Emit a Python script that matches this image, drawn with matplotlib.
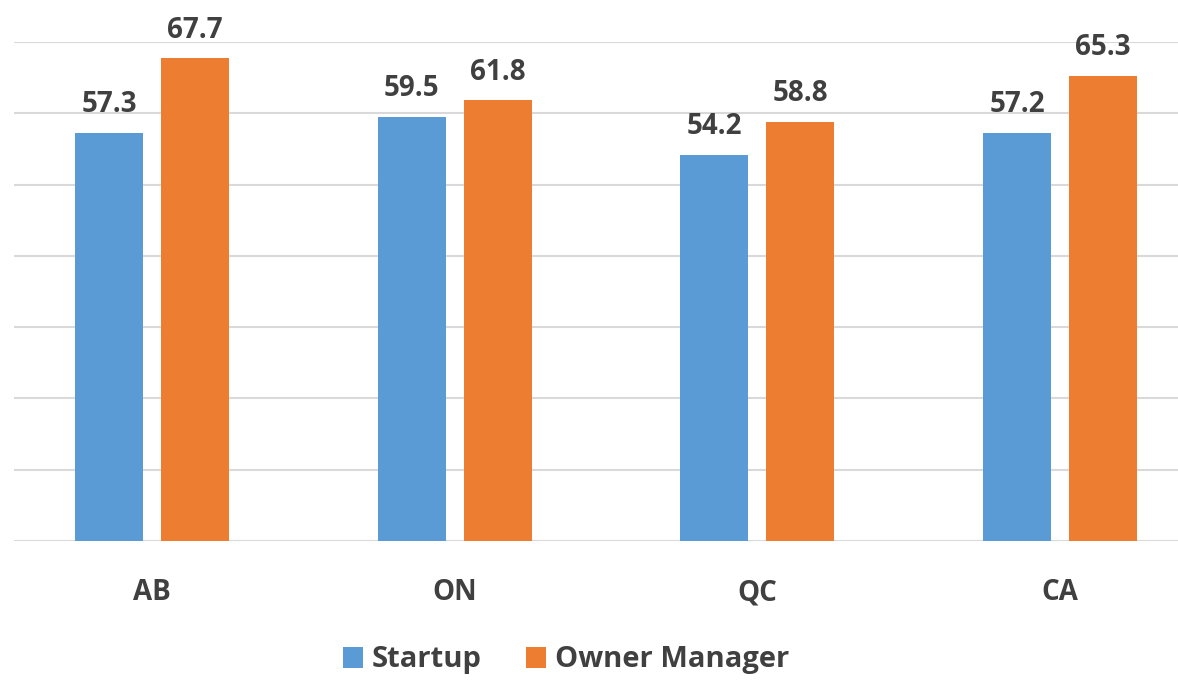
import matplotlib
matplotlib.use("Agg")
import matplotlib.pyplot as plt
import numpy as np

categories = ["AB", "ON", "QC", "CA"]
startup = [57.3, 59.5, 54.2, 57.2]
owner_manager = [67.7, 61.8, 58.8, 65.3]
series_names = ["Startup", "Owner Manager"]
colors = ["#5B9BD5", "#ED7D31"]
text_color = "#404040"

plt.rcParams['font.family'] = ['Open Sans', 'DejaVu Sans']

fig = plt.figure(figsize=(11.78, 6.80), dpi=100)
ax = fig.add_axes([14/1178, (680-541)/680, 1164/1178, 499/680])

x = np.arange(len(categories))
w = 0.225
off = 0.142
bars1 = ax.bar(x - off, startup, w, color=colors[0], label=series_names[0], zorder=3)
bars2 = ax.bar(x + off, owner_manager, w, color=colors[1], label=series_names[1], zorder=3)

for bars, vals in ((bars1, startup), (bars2, owner_manager)):
    for b, v in zip(bars, vals):
        ax.annotate(f"{v:.1f}", (b.get_x() + b.get_width()/2, v), xytext=(0, 10),
                    textcoords="offset points", ha="center", va="bottom",
                    fontsize=20, fontweight="bold", color=text_color, clip_on=False)

ax.set_xlim(-0.456, 3.39)
ax.set_ylim(0, 70)
ax.set_yticks(np.arange(0, 71, 10))
ax.yaxis.grid(True, color="#D9D9D9", linewidth=1.5, zorder=0)
ax.set_yticklabels([])
ax.tick_params(axis="y", length=0)
ax.set_xticks(x)
ax.set_xticklabels(categories, fontsize=20, fontweight="bold", color=text_color)
ax.tick_params(axis="x", length=0, pad=27)
for s in ax.spines.values():
    s.set_visible(False)

leg = fig.legend(handles=[bars1, bars2], labels=series_names, loc="center",
                 bbox_to_anchor=(566/1178, 1 - 660/680), ncol=2, frameon=False,
                 prop={"size": 21, "weight": "bold"}, handlelength=0.7, handleheight=0.7,
                 handletextpad=0.3, columnspacing=1.5)
for t in leg.get_texts():
    t.set_color(text_color)

fig.savefig("out.png", dpi=100)
